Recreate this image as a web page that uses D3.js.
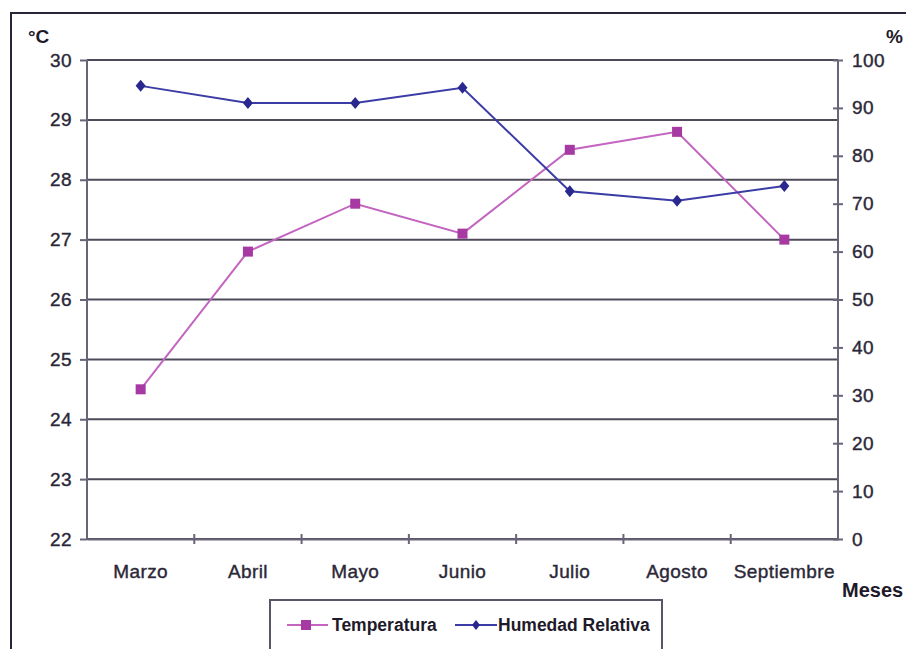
<!DOCTYPE html>
<html>
<head>
<meta charset="utf-8">
<script src="https://cdn.jsdelivr.net/npm/d3@7"></script>
<style>
  body { margin: 0; background: #fff; }
  text { font-family: Arial, "Liberation Sans", sans-serif; }
</style>
</head>
<body>
<script>
var months = ["Marzo", "Abril", "Mayo", "Junio", "Julio", "Agosto", "Septiembre"];
var temperatura = [24.5, 26.8, 27.6, 27.1, 28.5, 28.8, 27.0];
var humedad = [94.6, 91.0, 91.0, 94.2, 72.6, 70.6, 73.7];
var tempTicks = [22, 23, 24, 25, 26, 27, 28, 29, 30];
var humTicks = [0, 10, 20, 30, 40, 50, 60, 70, 80, 90, 100];

var w = 906, h = 649;
var plotLeft = 87, plotRight = 838, plotTop = 60, plotBottom = 539;

var svg = d3.select("body").append("svg")
    .attr("width", w)
    .attr("height", h);

// outer frame
svg.append("path")
    .attr("d", "M11," + h + "V13H" + w)
    .attr("fill", "none")
    .attr("stroke", "#2a2438")
    .attr("stroke-width", 2);

var x = d3.scaleBand().domain(months).range([plotLeft, plotRight]);
var yT = d3.scaleLinear().domain([22, 30]).range([plotBottom, plotTop]);
var yH = d3.scaleLinear().domain([0, 100]).range([plotBottom, plotTop]);

var axisColor = "#6a6478";
var gridColor = "#4e4a5a";
var textColor = "#2b2838";

// gridlines
svg.selectAll(".grid")
    .data(tempTicks)
    .enter()
    .append("line")
    .attr("x1", plotLeft)
    .attr("x2", plotRight)
    .attr("y1", function (d) { return yT(d); })
    .attr("y2", function (d) { return yT(d); })
    .attr("stroke", gridColor)
    .attr("stroke-width", 2);

// left axis
var gL = svg.append("g")
    .attr("transform", "translate(" + plotLeft + ",0)")
    .call(d3.axisLeft(yT).tickValues(tempTicks).tickSize(7).tickPadding(9));
// right axis
var gR = svg.append("g")
    .attr("transform", "translate(" + plotRight + ",0)")
    .call(d3.axisRight(yH).tickValues(humTicks).tickSize(5).tickPadding(9));
gR.selectAll(".tick line").attr("x1", -5);
// bottom axis
var gB = svg.append("g")
    .attr("transform", "translate(0," + plotBottom + ")")
    .call(d3.axisBottom(x).tickSize(0).tickPadding(24));

// band boundary ticks on x axis
svg.selectAll(".xtick")
    .data(months.slice(1))
    .enter()
    .append("line")
    .attr("x1", function (d) { return x(d); })
    .attr("x2", function (d) { return x(d); })
    .attr("y1", plotBottom - 5)
    .attr("y2", plotBottom + 5)
    .attr("stroke", axisColor)
    .attr("stroke-width", 2);

[gL, gR, gB].forEach(function (g) {
    g.select(".domain").attr("stroke", axisColor).attr("stroke-width", 2);
    g.selectAll(".tick line").attr("stroke", axisColor).attr("stroke-width", 2);
    g.selectAll("text")
        .attr("fill", textColor)
        .attr("stroke", textColor)
        .attr("stroke-width", 0.4)
        .style("font-size", "19px")
        .style("letter-spacing", "0.4px")
        .style("font-family", "Arial, 'Liberation Sans', sans-serif");
});
gL.selectAll("text").attr("x", -15);
gB.selectAll("text").attr("dy", "0.32em").attr("y", 33);
gR.select(".domain").attr("d", "M0," + plotBottom + "V" + plotTop);
gL.select(".domain").attr("d", "M0," + plotBottom + "V" + plotTop);

// axis titles
svg.append("text").attr("x", 28).attr("y", 43).text("°C")
    .style("font-size", "19px").style("font-weight", "bold").attr("fill", "#1e1a2a");
svg.append("text").attr("x", 886).attr("y", 43).text("%")
    .style("font-size", "19px").style("font-weight", "bold").attr("fill", "#1e1a2a");
svg.append("text").attr("x", 842).attr("y", 597).text("Meses")
    .style("font-size", "20px").style("font-weight", "bold").attr("fill", "#1e1a2a");

var tempLine = "#c264c0", tempMark = "#a63aa2";
var humLine = "#3c3ca6", humMark = "#28288e";

var cx = function (d, i) { return x(months[i]) + x.bandwidth() / 2; };

svg.append("path")
    .datum(temperatura)
    .attr("fill", "none")
    .attr("stroke", tempLine)
    .attr("stroke-width", 2)
    .attr("d", d3.line().x(cx).y(function (d) { return yT(d); }));

svg.selectAll(".tmark")
    .data(temperatura)
    .enter()
    .append("rect")
    .attr("x", function (d, i) { return cx(d, i) - 5; })
    .attr("y", function (d) { return yT(d) - 5; })
    .attr("width", 10)
    .attr("height", 10)
    .attr("fill", tempMark);

svg.append("path")
    .datum(humedad)
    .attr("fill", "none")
    .attr("stroke", humLine)
    .attr("stroke-width", 2)
    .attr("d", d3.line().x(cx).y(function (d) { return yH(d); }));

svg.selectAll(".hmark")
    .data(humedad)
    .enter()
    .append("path")
    .attr("transform", function (d, i) { return "translate(" + cx(d, i) + "," + yH(d) + ")"; })
    .attr("d", "M0,-6L5,0L0,6L-5,0Z")
    .attr("fill", humMark);

// legend
var leg = svg.append("g");
leg.append("rect")
    .attr("x", 270).attr("y", 600)
    .attr("width", 392).attr("height", 60)
    .attr("fill", "#fff")
    .attr("stroke", "#5a5566")
    .attr("stroke-width", 2);

leg.append("line").attr("x1", 287).attr("x2", 328).attr("y1", 625).attr("y2", 625)
    .attr("stroke", tempLine).attr("stroke-width", 2);
leg.append("rect").attr("x", 301).attr("y", 620).attr("width", 10).attr("height", 10).attr("fill", tempMark);
leg.append("text").attr("x", 332).attr("y", 631).text("Temperatura")
    .style("font-size", "17.5px").style("font-weight", "bold").attr("fill", "#1e1a2a");

leg.append("line").attr("x1", 455).attr("x2", 497).attr("y1", 625).attr("y2", 625)
    .attr("stroke", humLine).attr("stroke-width", 2);
leg.append("path").attr("transform", "translate(476,625)").attr("d", "M0,-5L4,0L0,5L-4,0Z").attr("fill", humMark);
leg.append("text").attr("x", 498).attr("y", 631).text("Humedad Relativa")
    .style("font-size", "17.5px").style("font-weight", "bold").attr("fill", "#1e1a2a");
</script>
</body>
</html>
